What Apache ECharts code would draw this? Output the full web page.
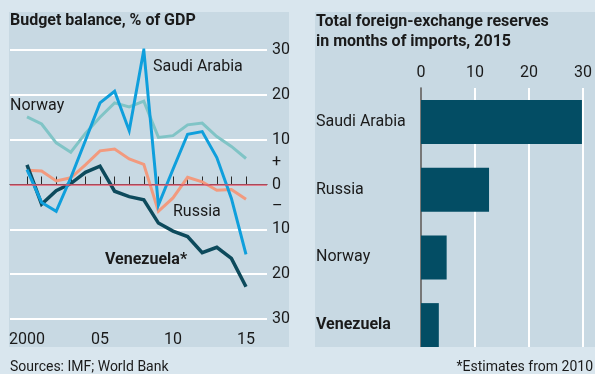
<!DOCTYPE html>
<html>
<head>
<meta charset="utf-8">
<script src="https://cdn.jsdelivr.net/npm/echarts@6/dist/echarts.min.js"></script>
<style>
  html, body { margin: 0; padding: 0; background: #d9e6ee; }
  #chart { width: 595px; height: 374px; }
</style>
</head>
<body>
<div id="chart"></div>
<script>
// Budget balance, % of GDP
const years = [2000, 2001, 2002, 2003, 2004, 2005, 2006, 2007, 2008, 2009, 2010, 2011, 2012, 2013, 2014, 2015];
const saudiArabia = [3.3, -4.0, -6.0, 1.5, 9.8, 18.2, 20.8, 12.0, 30.0, -4.6, 3.4, 11.2, 11.8, 6.0, -3.1, -15.6];
const norway      = [15.1, 13.5, 9.3, 7.2, 11.4, 15.0, 18.2, 17.3, 18.6, 10.5, 10.9, 13.3, 13.7, 10.7, 8.5, 5.8];
const russia      = [3.2, 3.0, 0.8, 1.5, 4.4, 7.5, 7.9, 5.7, 4.5, -6.0, -3.0, 1.6, 0.6, -1.3, -1.1, -3.3];
const venezuela   = [4.4, -4.4, -1.4, 0.2, 2.7, 4.1, -1.5, -2.7, -3.4, -8.6, -10.4, -11.6, -15.2, -14.0, -16.5, -22.8];
const yearLabels = { 2000: '2000', 2005: '05', 2010: '10', 2015: '15' };

// Total foreign-exchange reserves, months of imports, 2015
const reserveCountries = ['Saudi Arabia', 'Russia', 'Norway', 'Venezuela'];
const reserveMonths = [29.8, 12.6, 4.75, 3.3];

const FONT = 'Roboto, "Noto Sans", sans-serif';
const INK = '#1a1a1a';
const OUTER = '#d9e6ee';
const PANEL = '#c8d9e3';

const pairs = arr => years.map((y, i) => [y, arr[i]]);

const lineSeries = (name, arr, color, width) => ({
  name, type: 'line', xAxisIndex: 1, yAxisIndex: 2,
  data: pairs(arr), symbol: 'none', silent: true,
  lineStyle: { color, width, join: 'miter' }
});

const chart = echarts.init(document.getElementById('chart'), null, { renderer: 'canvas' });

chart.setOption({
  animation: false,
  backgroundColor: OUTER,
  textStyle: { fontFamily: FONT },
  grid: [
    { left: 10, right: 328, top: 50, bottom: 55 },   // budget frame (gridlines)
    { left: 27, right: 349, top: 50, bottom: 55 },   // budget data, 2000-15
    { left: 421, right: 10, top: 88, bottom: 15 }    // reserves bars
  ],
  xAxis: [
    { gridIndex: 0, type: 'value', min: 0, max: 1,
      axisLine: { show: true, lineStyle: { color: '#2a2a2a', width: 1 } },
      axisTick: { show: false }, axisLabel: { show: false }, splitLine: { show: false } },
    { gridIndex: 1, type: 'value', min: 2000, max: 2015, interval: 1,
      axisLine: { show: false },
      axisTick: { show: true, inside: true, length: 8, lineStyle: { color: '#2a2a2a', width: 1 } },
      axisLabel: { margin: 13, fontSize: 16, color: INK, fontFamily: FONT,
                   formatter: v => yearLabels[v] || '' },
      splitLine: { show: false } },
    { gridIndex: 2, type: 'value', position: 'top', min: 0, max: 30, interval: 10,
      axisLine: { show: false }, axisTick: { show: false },
      axisLabel: { margin: 7, fontSize: 16, color: INK, fontFamily: FONT },
      splitLine: { show: true, lineStyle: { color: '#ffffff', width: 2 } } }
  ],
  yAxis: [
    { gridIndex: 0, type: 'value', position: 'right', min: -30, max: 30, interval: 10,
      axisLine: { show: false }, axisTick: { show: false },
      axisLabel: { margin: 5, align: 'left', fontSize: 16, color: INK, fontFamily: FONT,
                   formatter: v => String(Math.abs(v)) },
      splitLine: { show: true, showMinLine: true, showMaxLine: true,
                   lineStyle: { width: 2, color: '#ffffff' } } },
    { gridIndex: 0, type: 'value', position: 'right', min: -30, max: 30, interval: 5,
      axisLine: { show: false }, axisTick: { show: false }, splitLine: { show: false },
      axisLabel: { margin: 5, align: 'left', fontSize: 16, color: INK, fontFamily: FONT,
                   formatter: v => (v === 5 ? '+' : v === -5 ? '\u2013' : '') } },
    { gridIndex: 1, type: 'value', min: -30, max: 30, show: false },
    { gridIndex: 2, type: 'category', data: reserveCountries, inverse: true,
      axisLine: { show: true, lineStyle: { color: '#4a4a4a', width: 1.5 } },
      axisTick: { show: false },
      axisLabel: { margin: 105, align: 'left', fontSize: 16, color: INK, fontFamily: FONT,
                   formatter: v => (v === 'Venezuela' ? '{b|' + v + '}' : v),
                   rich: { b: { fontWeight: 'bold', fontSize: 16, color: INK, fontFamily: FONT } } },
      splitLine: { show: false } }
  ],
  series: [
    // zero line across the full budget frame
    { name: 'zero', type: 'line', xAxisIndex: 0, yAxisIndex: 0, data: [], silent: true,
      markLine: { silent: true, symbol: 'none', label: { show: false },
                  lineStyle: { color: '#d5546a', width: 1.5, type: 'solid' },
                  data: [{ yAxis: 0 }] } },
    lineSeries('Norway', norway, '#80c4c6', 3),
    lineSeries('Russia', russia, '#f29a7e', 3),
    lineSeries('Venezuela', venezuela, '#0d4a5c', 3.5),
    lineSeries('Saudi Arabia', saudiArabia, '#0f9fdc', 3),
    { name: 'Reserves', type: 'bar', xAxisIndex: 2, yAxisIndex: 3,
      data: reserveMonths, barWidth: 44, silent: true,
      itemStyle: { color: '#034d64' } }
  ],
  graphic: [
    // panels
    { type: 'rect', z: -10, shape: { x: 9, y: 12, width: 280, height: 335 }, style: { fill: PANEL } },
    { type: 'rect', z: -10, shape: { x: 315, y: 12, width: 280, height: 335 }, style: { fill: PANEL } },
    // strip below the panels
    { type: 'rect', z: 100, shape: { x: 290, y: 347, width: 305, height: 27 }, style: { fill: OUTER } },
    // titles
    { type: 'text', z: 101, style: { text: 'Budget balance, % of GDP', x: 10, y: 20.5,
        font: 'bold 16px ' + FONT, fill: INK, verticalAlign: 'middle' } },
    { type: 'text', z: 101, style: { text: 'Total foreign-exchange reserves', x: 316, y: 21.5,
        font: 'bold 16px ' + FONT, fill: INK, verticalAlign: 'middle' } },
    { type: 'text', z: 101, style: { text: 'in months of imports, 2015', x: 316, y: 41.5,
        font: 'bold 16px ' + FONT, fill: INK, verticalAlign: 'middle' } },
    // series names
    { type: 'text', z: 101, style: { text: 'Saudi Arabia', x: 153, y: 67,
        font: '16px ' + FONT, fill: INK, verticalAlign: 'middle' } },
    { type: 'text', z: 101, style: { text: 'Norway', x: 10, y: 105.5,
        font: '16px ' + FONT, fill: INK, verticalAlign: 'middle' } },
    { type: 'text', z: 101, style: { text: 'Russia', x: 173, y: 212,
        font: '16px ' + FONT, fill: INK, verticalAlign: 'middle' } },
    { type: 'text', z: 101, style: { text: 'Venezuela*', x: 105, y: 260,
        font: 'bold 16px ' + FONT, fill: INK, verticalAlign: 'middle' } },
    // notes
    { type: 'text', z: 101, style: { text: 'Sources: IMF; World Bank', x: 10, y: 367,
        font: '14px ' + FONT, fill: INK, verticalAlign: 'middle' } },
    { type: 'text', z: 101, style: { text: '*Estimates from 2010', x: 593, y: 367,
        font: '14px ' + FONT, fill: INK, align: 'right', verticalAlign: 'middle' } }
  ]
});
</script>
</body>
</html>
